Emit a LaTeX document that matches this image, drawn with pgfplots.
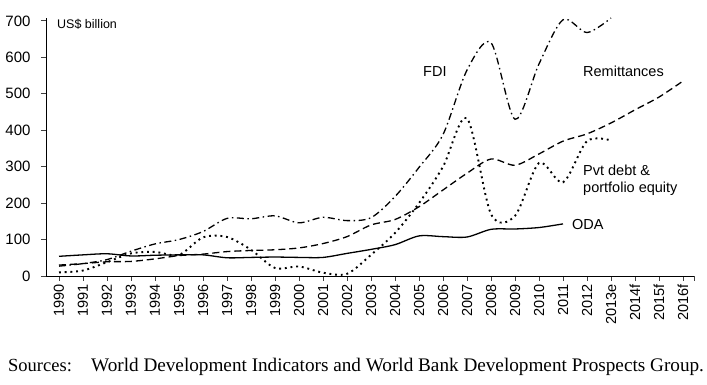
\documentclass[border=0pt]{standalone}
\usepackage{pgfplots}
\pgfplotsset{compat=1.18}
\usepackage{fontspec}
\setmainfont{Liberation Sans}
\newfontfamily\timesfont{Liberation Serif}

\pgfplotstableread{
x y
0 27
1 34
2 45
3 68
4 88
5 100
6 122
7 158
8 157
9 165
10 146
11 161
12 152
13 160
14 218
15 298
16 388
17 565
18 640
19 430
20 582
21 703
22 668
23 708
}\fdi

\pgfplotstableread{
x y
0 30
1 34
2 39
3 40
4 47
5 56
6 60
7 67
8 70
9 72
10 77
11 89
12 108
13 140
14 155
15 190
16 236
17 282
18 321
19 304
20 335
21 370
22 390
23 420
24 456
25 491
26 535
}\remit

\pgfplotstableread{
x y
0 10
1 15
2 38
3 62
4 66
5 58
6 106
7 107
8 72
9 22
10 26
11 9
12 6
13 58
14 118
15 200
16 300
17 433
18 170
19 165
20 310
21 257
22 370
23 372
}\pvt

\pgfplotstableread{
x y
0 54
1 58
2 61
3 55
4 57
5 58
6 58
7 50
8 51
9 52
10 51
11 51
12 62
13 73
14 86
15 110
16 108
17 107
18 128
19 129
20 133
21 143
}\oda

\begin{document}
\begin{tikzpicture}[x=1pt,y=1pt]
\path[use as bounding box] (0,0) rectangle (707,385);
\begin{axis}[
  at={(46pt,109pt)}, anchor=south west,
  width=648pt, height=258pt, scale only axis,
  xmin=-0.542, xmax=26.458, ymin=0, ymax=708,
  axis lines=left,
  axis line style={-, line width=0.9pt, black},
  tick style={line width=0.9pt, black!75},
  tick align=outside,
  major tick length=5pt,
  ytick={0,100,...,700},
  xtick={0,...,26},
  xticklabels={1990,1991,1992,1993,1994,1995,1996,1997,1998,1999,2000,2001,2002,2003,2004,2005,2006,2007,2008,2009,2010,2011,2012,2013e,2014f,2015f,2016f},
  extra x ticks={26.458},
  extra x tick labels={},
  x tick label style={rotate=90, anchor=east, font=\fontsize{14.5}{16}\selectfont},
  y tick label style={font=\fontsize{15}{17}\selectfont, xshift=-7pt},
  /pgf/number format/assume math mode=true,
  clip=false,
]
\addplot[black, line width=1.3pt, smooth, dash pattern=on 7pt off 3.5pt on 1.5pt off 3.5pt] table {\fdi};
\addplot[black, line width=1.3pt, smooth, dash pattern=on 7pt off 4pt] table {\remit};
\addplot[black, line width=1.9pt, smooth, dash pattern=on 1.9pt off 3.8pt] table {\pvt};
\addplot[black, line width=1.3pt, smooth] table {\oda};
\end{axis}
\node[anchor=base west, inner sep=0, font=\fontsize{12.5}{14}\selectfont] at (57,356) {US\$ billion};
\node[anchor=base west, inner sep=0, font=\fontsize{14.5}{16}\selectfont] at (423,308) {FDI};
\node[anchor=base west, inner sep=0, font=\fontsize{14.5}{16}\selectfont] at (583,308) {Remittances};
\node[anchor=base west, inner sep=0, font=\fontsize{14.5}{16}\selectfont] at (583,209) {Pvt debt \&};
\node[anchor=base west, inner sep=0, font=\fontsize{14.5}{16}\selectfont] at (583,192) {portfolio equity};
\node[anchor=base west, inner sep=0, font=\fontsize{14.5}{16}\selectfont] at (572,155) {ODA};
\node[anchor=base west, inner sep=0, font=\timesfont\fontsize{18.5}{20}\selectfont] at (8,13) {Sources:};
\node[anchor=base west, inner sep=0, font=\timesfont\fontsize{19.2}{21}\selectfont] at (91,13) {World Development Indicators and World Bank Development Prospects Group.};
\end{tikzpicture}
\end{document}
